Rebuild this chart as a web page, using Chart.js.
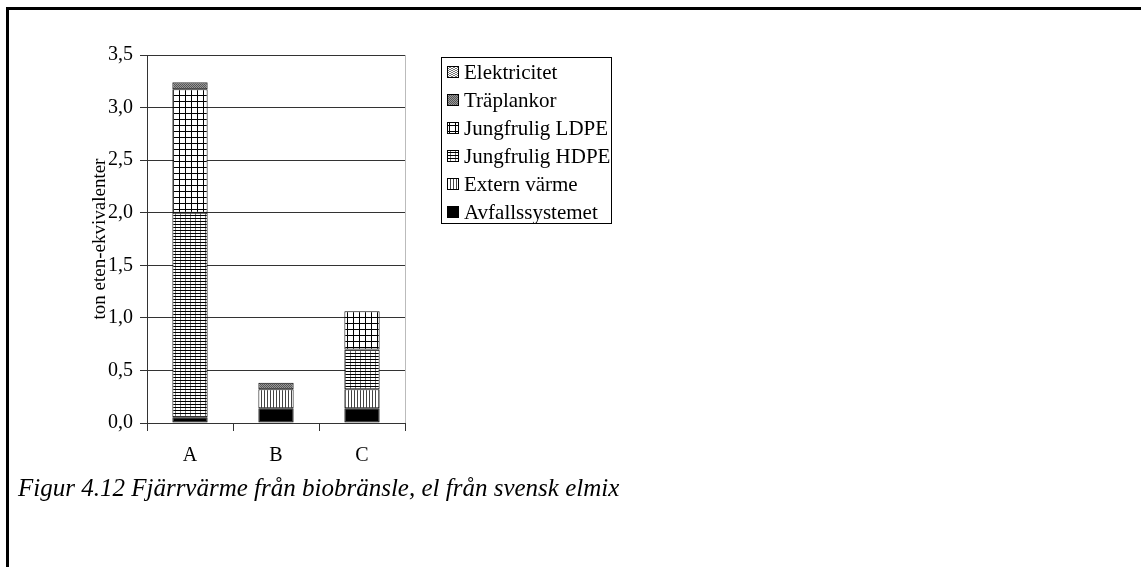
<!DOCTYPE html>
<html>
<head>
<meta charset="utf-8">
<script src="https://cdn.jsdelivr.net/npm/chart.js@4"></script>
<style>
  html, body { margin: 0; padding: 0; background: #fff; }
  #wrap { position: relative; width: 1141px; height: 567px; overflow: hidden; }
  #frame { position: absolute; left: 6px; top: 7px; right: -10px; bottom: -10px;
           border-top: 3px solid #000; border-left: 3px solid #000; }
  #chart { position: absolute; left: 0; top: 0; }
  #caption { position: absolute; left: 18px; top: 474px; font-family: "Liberation Serif", "DejaVu Serif", serif;
             font-style: italic; font-size: 25px; color: #000; white-space: nowrap; }
</style>
</head>
<body>
<div id="wrap">
  <div id="frame"></div>
  <canvas id="chart" width="1141" height="567"></canvas>
  <div id="caption">Figur 4.12 Fjärrvärme från biobränsle, el från svensk elmix</div>
</div>
<script>
const categories = ["A", "B", "C"];
const avfall = [0.055, 0.14, 0.14];
const externVarme = [null, 0.18, 0.18];
const hdpe = [1.945, null, 0.38];
const ldpe = [1.175, null, 0.363];
const traplankor = [0.063, 0.063, null];
const elektricitet = [0.005, null, null];
const yTicks = [0, 0.5, 1.0, 1.5, 2.0, 2.5, 3.0, 3.5];

// fyllnadsmönster
function makePattern(w, h, draw) {
    const c = document.createElement("canvas");
    c.width = w; c.height = h;
    const g = c.getContext("2d");
    g.fillStyle = "#fff";
    g.fillRect(0, 0, w, h);
    draw(g);
    return document.getElementById("chart").getContext("2d").createPattern(c, "repeat");
}

const patVertical = makePattern(3, 1, g => { g.fillStyle = "#444"; g.fillRect(0, 0, 1, 1); });
const patSmallGrid = makePattern(5, 3, g => {
    g.fillStyle = "#777"; g.fillRect(0, 0, 1, 3);
    g.fillStyle = "#000"; g.fillRect(0, 2, 5, 1);
});
const patBigGrid = makePattern(6, 6, g => {
    g.fillStyle = "#000"; g.fillRect(0, 5, 6, 1); g.fillRect(5, 0, 1, 6);
});
const patDots = makePattern(2, 2, g => {
    g.fillStyle = "#999"; g.fillRect(0, 0, 2, 2);
    g.fillStyle = "#555"; g.fillRect(0, 0, 1, 1); g.fillRect(1, 1, 1, 1);
});
const patWave = makePattern(4, 4, g => {
    g.fillStyle = "#777";
    g.fillRect(0, 0, 1, 1); g.fillRect(1, 1, 1, 1); g.fillRect(2, 1, 1, 1); g.fillRect(3, 0, 1, 1);
    g.fillRect(0, 2, 1, 1); g.fillRect(1, 3, 1, 1); g.fillRect(2, 3, 1, 1); g.fillRect(3, 2, 1, 1);
});

const serif = "'Liberation Serif', 'DejaVu Serif', serif";

function ds(label, data, fill) {
    return {
        label: label, data: data, backgroundColor: fill,
        borderColor: "#000", borderWidth: 1, borderSkipped: false,
        barPercentage: 0.41, categoryPercentage: 1.0
    };
}

// egen legend med ram
const boxLegend = {
    id: "boxLegend",
    afterDraw(chart) {
        const ctx = chart.ctx;
        const items = chart.data.datasets.slice().reverse();
        const x0 = 441, y0 = 57, w = 170, h = 166, step = 28;
        ctx.save();
        ctx.strokeStyle = "#000";
        ctx.lineWidth = 1;
        ctx.strokeRect(x0 + 0.5, y0 + 0.5, w, h);
        ctx.font = "21px " + serif;
        ctx.textBaseline = "middle";
        items.forEach((d, i) => {
            const cy = y0 + 15 + i * step;
            ctx.fillStyle = d.backgroundColor;
            ctx.fillRect(x0 + 6, cy - 6, 12, 12);
            ctx.strokeRect(x0 + 6.5, cy - 5.5, 11, 11);
            ctx.fillStyle = "#000";
            ctx.fillText(d.label, x0 + 23, cy + 1);
        });
        // plottytans högerkant
        const a = chart.chartArea;
        ctx.strokeStyle = "#bbb";
        ctx.beginPath();
        ctx.moveTo(Math.round(a.right) + 0.5, a.top);
        ctx.lineTo(Math.round(a.right) + 0.5, a.bottom);
        ctx.stroke();
        ctx.restore();
    }
};

new Chart(document.getElementById("chart"), {
    type: "bar",
    data: {
        labels: categories,
        datasets: [
            ds("Avfallssystemet", avfall, "#000"),
            ds("Extern värme", externVarme, patVertical),
            ds("Jungfrulig HDPE", hdpe, patSmallGrid),
            ds("Jungfrulig LDPE", ldpe, patBigGrid),
            ds("Träplankor", traplankor, patDots),
            ds("Elektricitet", elektricitet, patWave)
        ]
    },
    options: {
        responsive: false,
        animation: false,
        layout: { padding: { left: 89, top: 55, right: 1141 - 405, bottom: 98 } },
        plugins: { legend: { display: false }, tooltip: { enabled: false } },
        scales: {
            x: {
                stacked: true,
                offset: true,
                afterFit: axis => { axis.height = 46; },
                grid: { offset: true, drawOnChartArea: false, color: "#333", tickLength: 8 },
                border: { color: "#333", width: 1 },
                ticks: { font: { family: serif, size: 20 }, color: "#000", padding: 13 }
            },
            y: {
                stacked: true,
                min: 0, max: 3.5,
                afterFit: axis => { axis.width = 147 - 89; },
                afterBuildTicks: axis => { axis.ticks = yTicks.map(v => ({ value: v })); },
                grid: { color: "#333", tickLength: 7 },
                border: { color: "#333", width: 1 },
                ticks: {
                    font: { family: serif, size: 20 }, color: "#000", padding: 7,
                    callback: v => v.toFixed(1).replace(".", ",")
                },
                title: { display: true, text: "ton eten-ekvivalenter", font: { family: serif, size: 19 }, color: "#000", padding: 0 }
            }
        }
    },
    plugins: [boxLegend]
});
</script>
</body>
</html>
